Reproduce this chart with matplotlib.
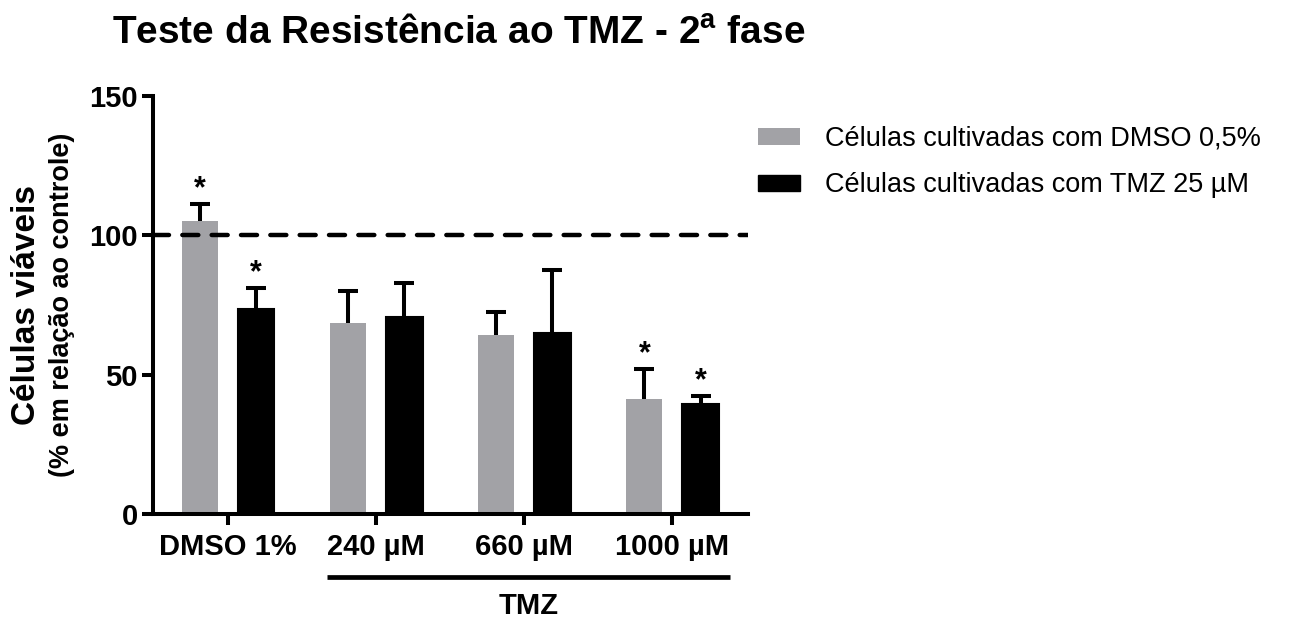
import numpy as np
import matplotlib
matplotlib.use("Agg")
import matplotlib.pyplot as plt
from matplotlib.patches import Patch
from matplotlib.lines import Line2D

plt.rcParams['font.family'] = ['Liberation Sans', 'DejaVu Sans']
plt.rcParams['mathtext.fontset'] = 'custom'
plt.rcParams['mathtext.rm'] = 'Liberation Sans'
plt.rcParams['mathtext.bf'] = 'Liberation Sans:bold'

# ---- data ----
categories = ['DMSO 1%', '240 µM', '660 µM', '1000 µM']
series_names = ['Células cultivadas com DMSO 0,5%', 'Células cultivadas com TMZ 25 µM']
dmso_mean = [105.2, 68.4, 64.2, 41.3]
dmso_err = [6.0, 11.5, 8.4, 10.6]
tmz_mean = [73.7, 70.6, 64.8, 39.5]
tmz_err = [7.4, 12.4, 22.7, 2.8]
dmso_sig = [True, False, False, True]
tmz_sig = [True, False, False, True]
yticks = [0, 50, 100, 150]
reference_level = 100
group_label = 'TMZ'
group_members = [1, 2, 3]

GRAY = '#A2A2A6'
W, H = 1291, 627
fig = plt.figure(figsize=(W / 100, H / 100), dpi=100)
ax = fig.add_axes([153 / W, (627 - 514) / H, (748 - 153) / W, (514 - 96) / H])

x = np.arange(len(categories))
off = 0.19
bw = 0.245
ekw = dict(elinewidth=2.9, capsize=6.9, capthick=2.9, ecolor='black')
ax.bar(x - off, dmso_mean, bw, color=GRAY, edgecolor='none', zorder=2)
ax.bar(x + off, tmz_mean, bw, color='black', edgecolor='black', linewidth=1.5, zorder=2)
for xs, m, e in [(x - off, dmso_mean, dmso_err), (x + off, tmz_mean, tmz_err)]:
    eb = ax.errorbar(xs, m, yerr=[np.zeros(len(m)), e], fmt='none', zorder=1, **ekw)
    eb[1][0].set_visible(False)  # hide the lower caps (one-sided error bars)

for xs, m, e, s in [(x - off, dmso_mean, dmso_err, dmso_sig), (x + off, tmz_mean, tmz_err, tmz_sig)]:
    for xi, mi, ei, si in zip(xs, m, e, s):
        if si:
            ax.annotate('*', (xi, mi + ei), xytext=(0, 5), textcoords='offset points',
                        ha='center', va='baseline', fontsize=22, fontweight='bold')

ax.axhline(reference_level, color='black', lw=3.2, linestyle=(0, (3.6, 3.0)),
           dash_capstyle='round', zorder=3)

ax.set_xlim(-0.507, 3.51)
ax.set_ylim(0, 150)
ax.set_yticks(yticks)
ax.set_xticks(x)
ax.set_xticklabels(categories)
for sp in ['top', 'right']:
    ax.spines[sp].set_visible(False)
for sp in ['left', 'bottom']:
    ax.spines[sp].set_linewidth(2.9)
ax.tick_params(axis='both', width=2.9, length=8, labelsize=21)
ax.tick_params(axis='x', pad=5.5)
ax.tick_params(axis='y', pad=3)
for lab in ax.get_xticklabels() + ax.get_yticklabels():
    lab.set_fontweight('bold')

# y labels
yc = 1 - 305 / H
fig.text(27 / W, yc, 'Células viáveis', rotation=90, ha='center', va='center',
         fontsize=24, fontweight='bold')
fig.text(62 / W, yc, '(% em relação ao controle)', rotation=90, ha='center', va='center',
         fontsize=19.5, fontweight='bold')

# title
fig.text(112 / W, 1 - 43 / H, 'Teste da Resistência ao TMZ - $\\mathbf{2^{a}}$ fase',
         ha='left', va='baseline', fontsize=28, fontweight='bold')

# legend
handles = [Patch(facecolor=GRAY, edgecolor='none'),
           Patch(facecolor='black', edgecolor='black')]
fig.legend(handles, series_names, loc='upper left', bbox_to_anchor=(758 / W, 1 - 126 / H),
           frameon=False, fontsize=19.5, handlelength=1.55, handleheight=0.55,
           handletextpad=0.92, labelspacing=0.75, borderpad=0, borderaxespad=0)

# group bracket under TMZ concentrations
fig.canvas.draw()
r = fig.canvas.get_renderer()
labs = ax.get_xticklabels()
x0 = labs[group_members[0]].get_window_extent(r).x0
x1 = labs[group_members[-1]].get_window_extent(r).x1
ly = 1 - 577 / H
fig.add_artist(Line2D([x0 / W, x1 / W], [ly, ly], transform=fig.transFigure,
                      color='black', lw=3.4, solid_capstyle='butt'))
fig.text((x0 + x1) / 2 / W, 1 - 606 / H, group_label, ha='center', va='center',
         fontsize=21, fontweight='bold')

fig.savefig('out.png', dpi=100)
